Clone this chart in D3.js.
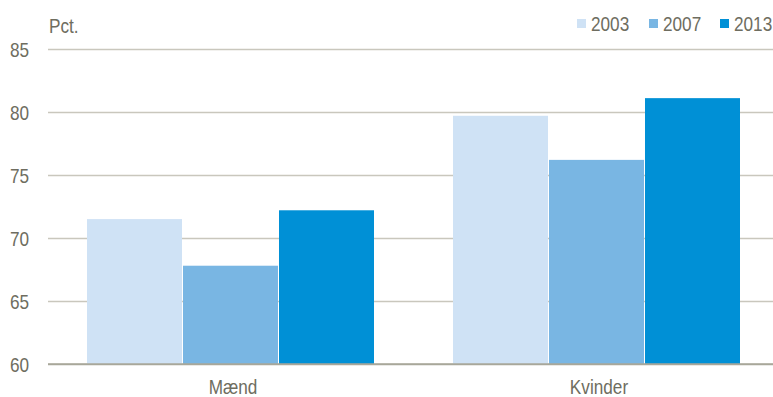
<!DOCTYPE html>
<html>
<head>
<meta charset="utf-8">
<script src="https://cdn.jsdelivr.net/npm/d3@7"></script>
<style>
  html, body { margin: 0; padding: 0; background: #fff; }
  svg { display: block; }
  text { font-family: "Liberation Sans", Arial, sans-serif; fill: #6e6d60; }
</style>
</head>
<body>
<svg id="chart" width="773" height="397"></svg>
<script>
// Share (pct.) by gender and year
const categories = ["Mænd", "Kvinder"];
const years = ["2003", "2007", "2013"];
const values2003 = [71.5, 79.7];
const values2007 = [67.8, 76.2];
const values2013 = [72.2, 81.1];
const yTicks = [60, 65, 70, 75, 80, 85];
const colors = ["#cfe2f5", "#79b6e3", "#0090d6"];

const series = [values2003, values2007, values2013];

const svg = d3.select("#chart");
const plotLeft = 48, plotRight = 780, plotTop = 49, plotBottom = 364;
const fontSize = 20;
const squeeze = 0.86; // horizontal compression for a condensed look

const y = d3.scaleLinear().domain([60, 85]).range([plotBottom, plotTop]);
const x0 = d3.scaleBand().domain(categories).range([plotLeft, plotRight]).padding(0);
const groupPad = 39;
const x1 = d3.scaleBand().domain(years).range([groupPad, x0.bandwidth() - groupPad]).padding(0);

// Place a condensed text at (x, y)
function condensed(sel, x, yPos) {
  return sel.attr("x", x / squeeze).attr("y", yPos)
    .attr("transform", `scale(${squeeze},1)`)
    .attr("font-size", fontSize);
}

// Gridlines and tick labels
const yAxis = d3.axisLeft(y).tickValues(yTicks).tickSize(0).tickPadding(0);
const gy = svg.append("g").attr("transform", `translate(${plotLeft},0)`).call(yAxis);
gy.select(".domain").remove();
gy.selectAll(".tick line")
  .attr("x2", 773 - plotLeft)
  .attr("stroke", d => d === 60 ? "#a9a79a" : "#c9c7bd")
  .attr("stroke-width", 1.3);
gy.selectAll(".tick text")
  .call(condensed, 29 - plotLeft, 0)
  .attr("text-anchor", "end")
  .attr("dy", "0.36em")
  .attr("font-family", null)
  .style("fill", "#6e6d60");

// Bars
const groups = svg.append("g").selectAll("g")
  .data(categories)
  .join("g")
  .attr("transform", d => `translate(${x0(d)},0)`);

groups.selectAll("rect")
  .data((c, ci) => years.map((yr, si) => ({ yr, v: series[si][ci], si })))
  .join("rect")
  .attr("x", d => x1(d.yr))
  .attr("width", x1.bandwidth() - 1)
  .attr("y", d => y(d.v))
  .attr("height", d => y(60) - y(d.v))
  .attr("fill", d => colors[d.si]);

// Redraw baseline over bars
svg.append("line")
  .attr("x1", plotLeft).attr("x2", 773)
  .attr("y1", y(60)).attr("y2", y(60))
  .attr("stroke", "#a9a79a").attr("stroke-width", 1.3);

// Category labels
const xAxis = d3.axisBottom(x0).tickSize(0).tickPadding(0);
const gx = svg.append("g").attr("transform", `translate(0,${plotBottom})`).call(xAxis);
gx.select(".domain").remove();
gx.selectAll(".tick text")
  .call(condensed, 2, 30)
  .attr("dy", null)
  .attr("font-family", null)
  .style("fill", "#6e6d60");

// Unit label
svg.append("text").call(condensed, 49, 33).text("Pct.");

// Legend
const legendX = [577, 649, 720];
const legend = svg.append("g").selectAll("g")
  .data(years)
  .join("g")
  .attr("transform", (d, i) => `translate(${legendX[i]},0)`);
legend.append("rect")
  .attr("x", 0).attr("y", 19).attr("width", 9).attr("height", 9)
  .attr("fill", (d, i) => colors[i]);
legend.append("text")
  .call(condensed, 14, 31)
  .text(d => d);
</script>
</body>
</html>
